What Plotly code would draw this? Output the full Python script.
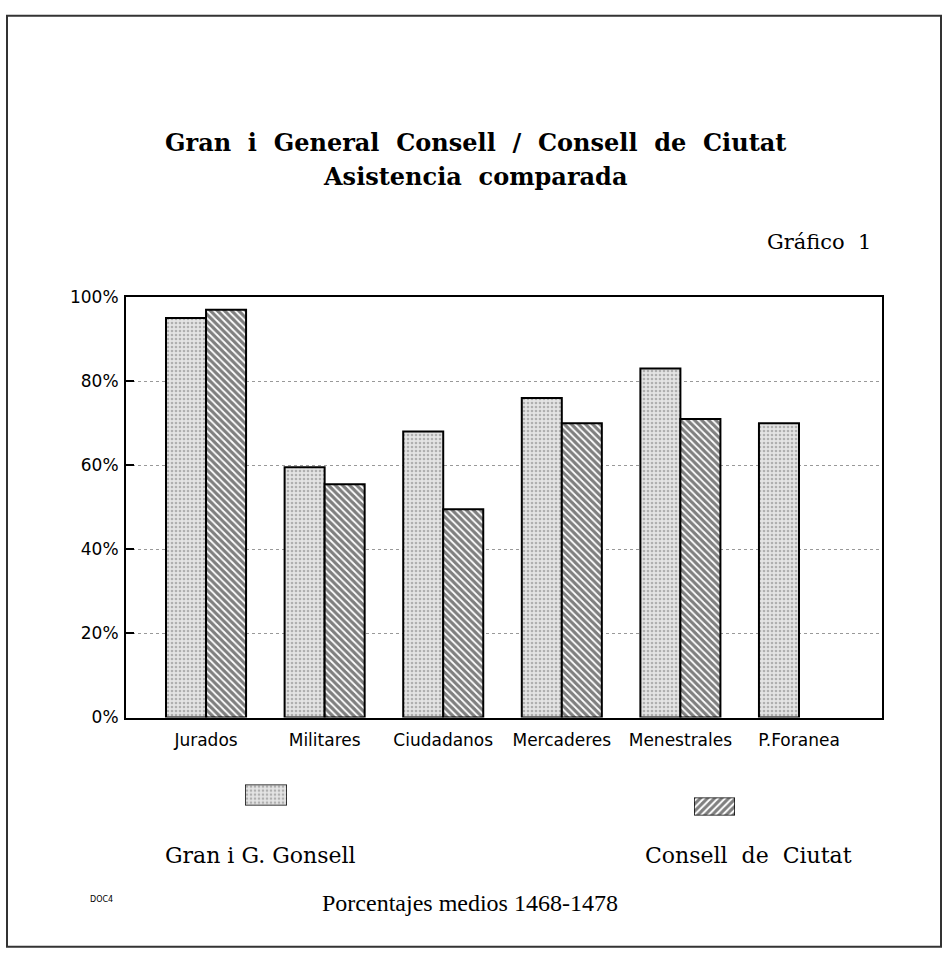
import plotly.graph_objects as go

# ---- data ----
categories = ["Jurados", "Militares", "Ciudadanos", "Mercaderes", "Menestrales", "P.Foranea"]
gran_consell = [95, 59.5, 68, 76, 83, 70]
consell_ciutat = [97, 55.5, 49.5, 70, 71, None]
y_ticks = [0, 20, 40, 60, 80, 100]
y_tick_labels = ["0%", "20%", "40%", "60%", "80%", "100%"]
series_names = ["Gran i G. Gonsell", "Consell de Ciutat"]

W, H = 944, 958
V_OFF, V_SCALE = 10.3, 0.978   # empirical correction of vertical placement

def px(x):
    return x / W
def py(y):
    internal = (y - V_OFF) / V_SCALE
    return 1 - internal / H

SANS = "DejaVu Sans"
SERIF = "DejaVu Serif"

grey_pattern = dict(shape=".", fgcolor="#7a7a7a", bgcolor="#e4e4e4", size=4, solidity=0.35)
hatch_pattern = dict(shape="\\", fgcolor="black", bgcolor="white", size=5, solidity=0.65)

fig = go.Figure()
fig.add_trace(go.Bar(
    x=categories, y=gran_consell, name=series_names[0],
    marker=dict(color="#e4e4e4", pattern=grey_pattern, line=dict(color="black", width=2)),
    showlegend=False,
))
fig.add_trace(go.Bar(
    x=categories, y=consell_ciutat, name=series_names[1],
    marker=dict(color="white", pattern=hatch_pattern, line=dict(color="black", width=2)),
    showlegend=False,
))

# legend swatches drawn as single bars on tiny axes
fig.add_trace(go.Bar(
    x=[0], y=[1], width=[1], xaxis="x2", yaxis="y2", cliponaxis=False, showlegend=False,
    marker=dict(color="#e4e4e4", pattern=grey_pattern, line=dict(color="black", width=1.5)),
    hoverinfo="skip",
))
fig.add_trace(go.Bar(
    x=[0], y=[1], width=[1], xaxis="x3", yaxis="y3", cliponaxis=False, showlegend=False,
    marker=dict(color="white", pattern=dict(shape="/", fgcolor="black", bgcolor="white", size=5, solidity=0.6),
                line=dict(color="black", width=1.5)),
    hoverinfo="skip",
))

hidden = dict(visible=False, fixedrange=True)

fig.update_layout(
    width=W, height=H, autosize=False,
    margin=dict(l=0, r=0, t=0, b=0),
    paper_bgcolor="white", plot_bgcolor="white",
    barmode="group", bargap=0.325, bargroupgap=0,
    xaxis=dict(
        domain=[px(126), px(882)], type="category", range=[-0.675, 5.70],
        showline=True, linecolor="black", linewidth=2, mirror=True,
        ticks="", showgrid=False, ticklabelstandoff=6,
        tickfont=dict(family=SANS, size=17, color="black"),
    ),
    yaxis=dict(
        domain=[py(717), py(297)], range=[0, 100],
        tickmode="array", tickvals=y_ticks, ticktext=y_tick_labels,
        showline=True, linecolor="black", linewidth=2, mirror=True,
        ticks="inside", ticklen=8, tickcolor="black", tickwidth=1.5,
        showgrid=True, gridcolor="#999999", griddash="dot", gridwidth=1,
        zeroline=False, ticklabelstandoff=2,
        tickfont=dict(family=SANS, size=17, color="black"),
    ),
    xaxis2=dict(domain=[px(245), px(287)], range=[-0.5, 0.5], anchor="y2", **hidden),
    yaxis2=dict(domain=[py(805), py(784)], range=[0, 1], anchor="x2", **hidden),
    xaxis3=dict(domain=[px(694), px(735)], range=[-0.5, 0.5], anchor="y3", **hidden),
    yaxis3=dict(domain=[py(815), py(797)], range=[0, 1], anchor="x3", **hidden),
    showlegend=False,
)

# frame
fig.add_shape(type="rect", xref="paper", yref="paper",
              x0=px(7), x1=px(941), y0=py(946), y1=py(16),
              line=dict(color="#333333", width=2), fillcolor="rgba(0,0,0,0)", layer="below")

def ann(text, x, y, size, family=SERIF, xanchor="center"):
    fig.add_annotation(text=text, x=x, y=y, xref="paper", yref="paper",
                       xanchor=xanchor, yanchor="middle", showarrow=False,
                       font=dict(family=family, size=size, color="black"))

sp = "&nbsp; "
ann("<b>" + sp.join(["Gran", "i", "General", "Consell", "/", "Consell", "de", "Ciutat"]) + "</b>", px(475), py(143), 24)
ann("<b>Asistencia" + sp + "comparada</b>", px(475), py(177), 24)
ann("Gráfico" + sp + "1", px(873), py(242), 21, xanchor="right")
ann(series_names[0], px(260), py(855), 22)
ann(sp.join(series_names[1].split(" ")), px(748), py(855), 22)
ann("DOC4", px(101), py(899), 8, family=SANS)
ann("Porcentajes medios 1468-1478", px(470), py(902), 24, family="Liberation Serif")

fig.write_html("out.html", config={"displayModeBar": False},
               post_script="document.body.style.margin='0';document.body.style.overflow='hidden';")
